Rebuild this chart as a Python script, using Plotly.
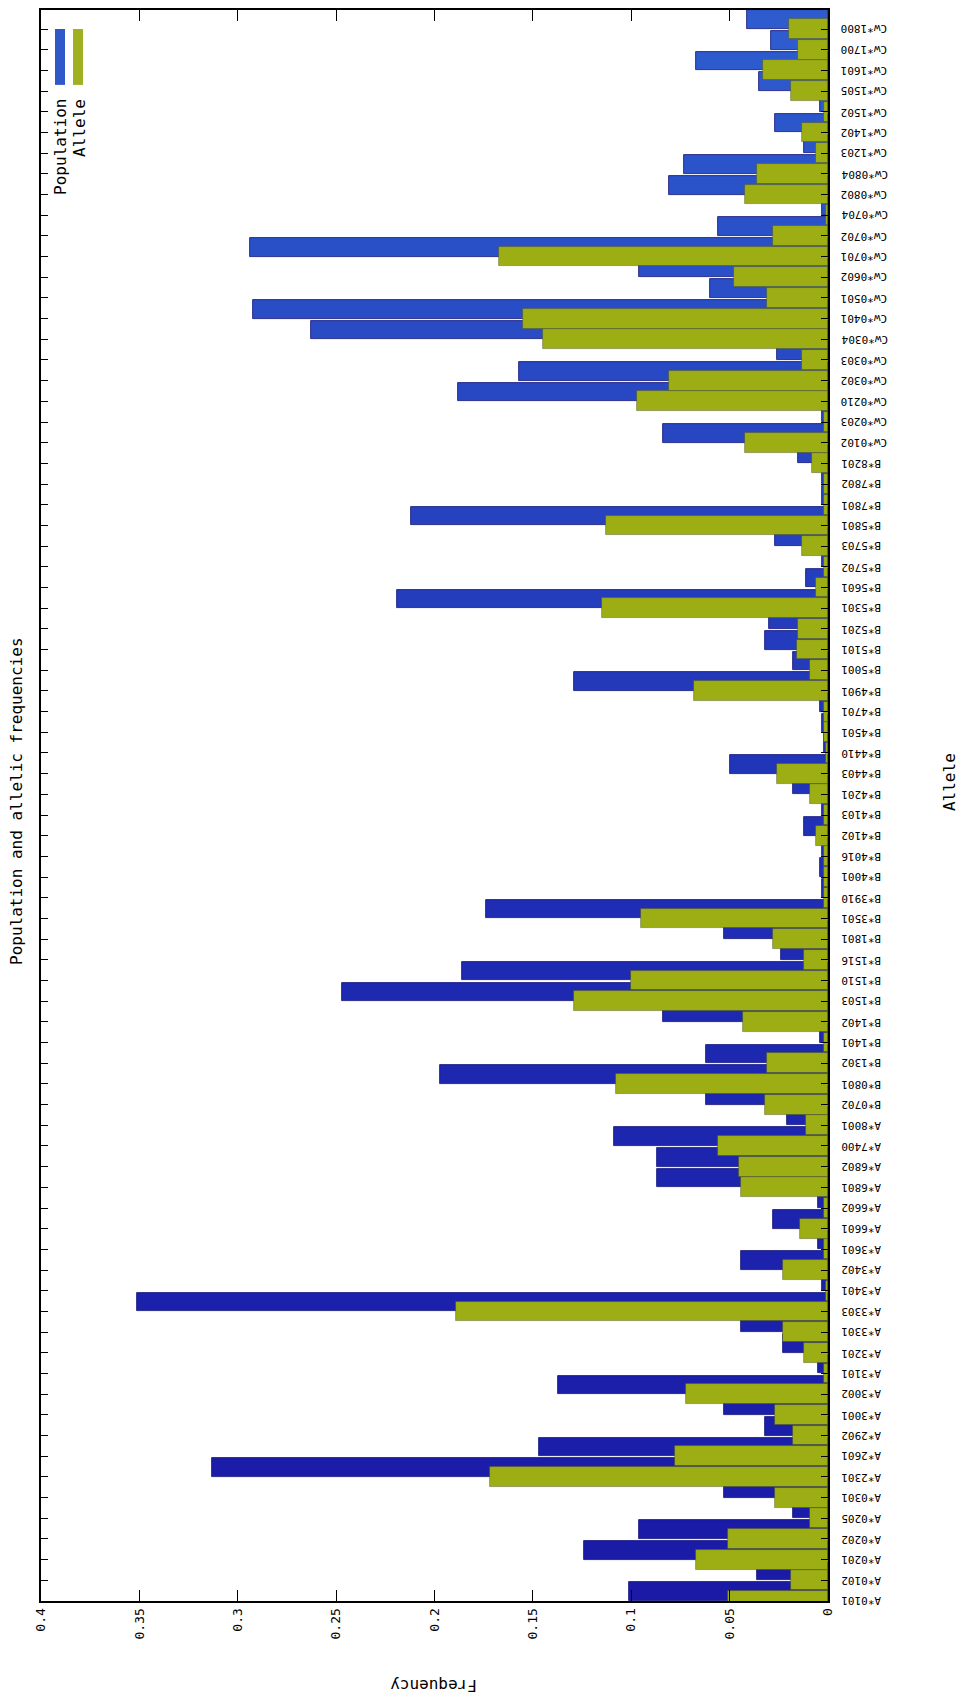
import plotly.graph_objects as go

# HLA alleles, bottom to top along the category axis
alleles = [
    "A*0101", "A*0102", "A*0201", "A*0202", "A*0205", "A*0301", "A*2301", "A*2601",
    "A*2902", "A*3001", "A*3002", "A*3101", "A*3201", "A*3301", "A*3303", "A*3401",
    "A*3402", "A*3601", "A*6601", "A*6602", "A*6801", "A*6802", "A*7400", "A*8001",
    "B*0702", "B*0801", "B*1302", "B*1401", "B*1402", "B*1503", "B*1510", "B*1516",
    "B*1801", "B*3501", "B*3910", "B*4001", "B*4016", "B*4102", "B*4103", "B*4201",
    "B*4403", "B*4410", "B*4501", "B*4701", "B*4901", "B*5001", "B*5101", "B*5201",
    "B*5301", "B*5601", "B*5702", "B*5703", "B*5801", "B*7801", "B*7802", "B*8201",
    "Cw*0102", "Cw*0203", "Cw*0210", "Cw*0302", "Cw*0303", "Cw*0304", "Cw*0401", "Cw*0501",
    "Cw*0602", "Cw*0701", "Cw*0702", "Cw*0704", "Cw*0802", "Cw*0804", "Cw*1203", "Cw*1402",
    "Cw*1502", "Cw*1505", "Cw*1601", "Cw*1700", "Cw*1800",
]

# population (carrier) frequency per allele
population = [
    0.101, 0.036, 0.124, 0.096, 0.018, 0.053, 0.313, 0.147,
    0.032, 0.053, 0.137, 0.005, 0.023, 0.044, 0.351, 0.003,
    0.044, 0.005, 0.028, 0.005, 0.087, 0.087, 0.109, 0.021,
    0.062, 0.197, 0.062, 0.004, 0.084, 0.247, 0.186, 0.024,
    0.053, 0.174, 0.003, 0.004, 0.003, 0.012, 0.003, 0.018,
    0.050, 0.002, 0.003, 0.004, 0.129, 0.018, 0.032, 0.030,
    0.219, 0.011, 0.003, 0.027, 0.212, 0.003, 0.003, 0.015,
    0.084, 0.003, 0.188, 0.157, 0.026, 0.263, 0.292, 0.060,
    0.096, 0.294, 0.056, 0.003, 0.081, 0.073, 0.012, 0.027,
    0.004, 0.035, 0.067, 0.029, 0.041,
]

# allelic frequency per allele
allele_freq = [
    0.051, 0.019, 0.067, 0.051, 0.009, 0.027, 0.172, 0.078,
    0.018, 0.027, 0.072, 0.002, 0.012, 0.023, 0.189, 0.001,
    0.023, 0.002, 0.014, 0.002, 0.044, 0.045, 0.056, 0.011,
    0.032, 0.108, 0.031, 0.002, 0.043, 0.129, 0.100, 0.012,
    0.028, 0.095, 0.002, 0.002, 0.002, 0.006, 0.002, 0.009,
    0.026, 0.001, 0.002, 0.002, 0.068, 0.009, 0.016, 0.015,
    0.115, 0.006, 0.002, 0.013, 0.113, 0.002, 0.002, 0.008,
    0.042, 0.002, 0.097, 0.081, 0.013, 0.145, 0.155, 0.031,
    0.048, 0.167, 0.028, 0.001, 0.042, 0.036, 0.006, 0.013,
    0.002, 0.019, 0.033, 0.015, 0.020,
]

freq_ticks = [0, 0.05, 0.1, 0.15, 0.2, 0.25, 0.3, 0.35, 0.4]
freq_tick_labels = ["0", "0.05", "0.1", "0.15", "0.2", "0.25", "0.3", "0.35", "0.4"]

W, H = 963, 1698
PL, PR, PT, PB = 41, 828, 8, 1601      # plot box edges in pixels
MONO = "DejaVu Sans Mono"

def px_x(px):
    return (px - PL) / (PR - PL)

def px_y(py):
    return (PB - py) / (PB - PT)

positions = list(range(len(alleles)))

# blue shading drifts from deep navy (A locus) to a lighter royal blue (C locus)
def blue_shade(i):
    n = len(alleles) - 1
    t = i / n
    if t < 0.4:
        a, b, f = (26, 26, 166), (30, 42, 178), t / 0.4
    else:
        a, b, f = (30, 42, 178), (46, 92, 206), (t - 0.4) / 0.6
    c = [round(a[k] + (b[k] - a[k]) * f) for k in range(3)]
    return "rgb(%d,%d,%d)" % tuple(c)

blue_colors = [blue_shade(i) for i in positions]
GREEN = "#9dae14"

fig = go.Figure()
fig.add_trace(go.Bar(
    y=positions, x=population, orientation="h", name="Population",
    width=0.9, offset=0.0,
    marker=dict(color=blue_colors, line=dict(color="#12127a", width=0.8)),
))
fig.add_trace(go.Bar(
    y=positions, x=allele_freq, orientation="h", name="Allele",
    width=0.96, offset=-0.48,
    marker=dict(color=GREEN, line=dict(color="rgba(70,75,40,0.55)", width=0.8)),
))

fig.update_layout(
    width=W, height=H,
    margin=dict(l=PL, r=W - PR, t=PT, b=H - PB, pad=0),
    paper_bgcolor="white", plot_bgcolor="white",
    barmode="overlay", showlegend=False, bargap=0,
    font=dict(family=MONO, size=11, color="black"),
)

fig.update_xaxes(
    range=[0.4, 0], tickvals=freq_ticks, ticktext=freq_tick_labels,
    tickangle=-90, ticks="inside", ticklen=11, tickwidth=1, tickcolor="black",
    showline=True, linecolor="black", linewidth=2, mirror="ticks",
    showgrid=False, zeroline=False,
    tickfont=dict(family=MONO, size=13, color="black"),
)
fig.update_yaxes(
    range=[0, 76.92], tickvals=positions, showticklabels=False,
    ticks="inside", ticklen=7, tickwidth=1, tickcolor="black",
    showline=True, linecolor="black", linewidth=2, mirror="ticks",
    showgrid=False, zeroline=False,
)

# allele names beside the axis, turned upside down with the chart
for pos, name in zip(positions, alleles):
    fig.add_annotation(xref="paper", yref="y", x=px_x(839), y=pos,
                       text=name, textangle=180, showarrow=False,
                       xanchor="left", yanchor="middle",
                       font=dict(family=MONO, size=11, color="black"))

# key: colour swatches with their names, turned with the chart
fig.add_shape(type="rect", xref="paper", yref="paper",
              x0=px_x(55), x1=px_x(65), y0=px_y(83), y1=px_y(27),
              fillcolor="#3157c9", line=dict(width=0))
fig.add_shape(type="rect", xref="paper", yref="paper",
              x0=px_x(73), x1=px_x(83), y0=px_y(83), y1=px_y(27),
              fillcolor="#9fb020", line=dict(width=0))

texts = [
    dict(text="Population", x=px_x(61), y=px_y(95), textangle=-90,
         xanchor="center", yanchor="top"),
    dict(text="Allele", x=px_x(80), y=px_y(95), textangle=-90,
         xanchor="center", yanchor="top"),
    dict(text="Population and allelic frequencies", x=px_x(16), y=px_y(800),
         textangle=-90, xanchor="center", yanchor="middle"),
    dict(text="Allele", x=px_x(949), y=px_y(781), textangle=-90,
         xanchor="center", yanchor="middle"),
    dict(text="Frequency", x=px_x(434), y=px_y(1685), textangle=180,
         xanchor="center", yanchor="middle"),
]
for t in texts:
    fig.add_annotation(xref="paper", yref="paper", showarrow=False,
                       font=dict(family=MONO, size=16, color="black"), **t)

fig.write_html("out.html")
